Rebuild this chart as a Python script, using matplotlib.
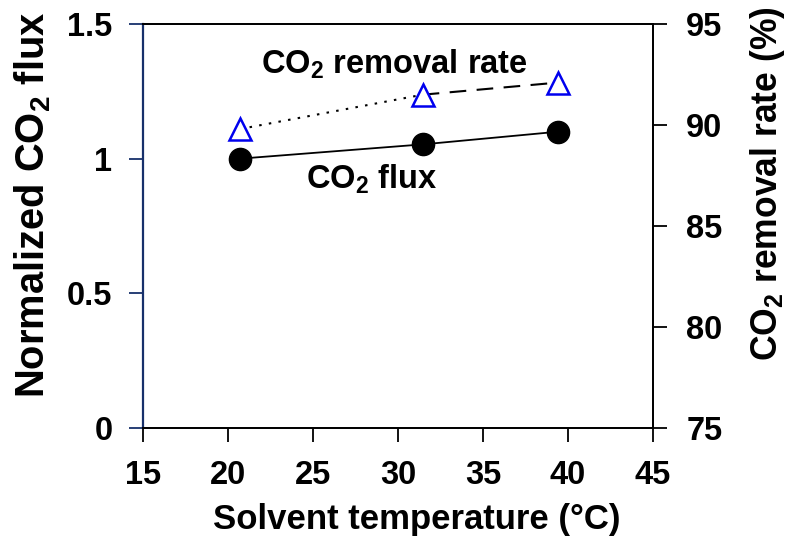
import matplotlib
matplotlib.use("Agg")
import matplotlib.pyplot as plt

plt.rcParams["font.family"] = ["Liberation Sans", "DejaVu Sans"]
plt.rcParams["font.weight"] = "bold"
plt.rcParams["mathtext.fontset"] = "custom"
plt.rcParams["mathtext.rm"] = "Liberation Sans:bold"
plt.rcParams["mathtext.it"] = "Liberation Sans:bold"
plt.rcParams["mathtext.bf"] = "Liberation Sans:bold"
plt.rcParams["mathtext.default"] = "rm"

# data
temperature = [20.7, 31.45, 39.4]
flux = [1.00, 1.053, 1.10]
removal_rate = [89.8, 91.5, 92.1]

x_ticks = [15, 20, 25, 30, 35, 40, 45]
left_ticks = [0, 0.5, 1, 1.5]
left_labels = ["0", "0.5", "1", "1.5"]
right_ticks = [75, 80, 85, 90, 95]

navy = "#17306b"
tick_fs = 23.5

fig = plt.figure(figsize=(7.92, 5.37), dpi=100)
ax = fig.add_axes([0.1806, 0.203, 0.6439, 0.7523])
ax2 = ax.twinx()

ax.plot(temperature, flux, color="black", lw=1.3, marker="o",
        markersize=16, markerfacecolor="black", markeredgecolor="black",
        zorder=3)

# removal rate: dotted first segment, dashed second
ax2.plot(temperature[:2], removal_rate[:2], color="black", lw=1.5,
         linestyle=(0, (1.2, 3.5)))
ax2.plot(temperature[1:], removal_rate[1:], color="black", lw=1.5,
         linestyle=(0, (8, 5)))
ax2.plot(temperature, removal_rate, linestyle="none", marker="^",
         markersize=16, markerfacecolor="white", markeredgecolor="#0000ee",
         markeredgewidth=1.8, zorder=4)

ax.set_xlim(15, 45)
ax.set_ylim(0, 1.5)
ax2.set_ylim(75, 95)
ax.set_xticks(x_ticks)
ax.set_yticks(left_ticks)
ax.set_yticklabels(left_labels)
ax2.set_yticks(right_ticks)

ax.tick_params(axis="x", direction="out", length=10, width=1.3,
               labelsize=tick_fs, pad=13)
ax.tick_params(axis="y", direction="out", length=10, width=1.3,
               labelsize=tick_fs, pad=12, color=navy)
ax2.tick_params(axis="y", direction="out", length=10, width=1.3,
                labelsize=tick_fs, pad=14)

for side in ["top", "bottom", "right"]:
    ax.spines[side].set_linewidth(1.3)
    ax2.spines[side].set_linewidth(1.3)
ax.spines["left"].set_color(navy)
ax.spines["left"].set_linewidth(1.6)
ax2.spines["left"].set_visible(False)

ax.set_xlabel("Solvent temperature (°C)", fontsize=25, fontweight="bold",
              labelpad=9)
ax.set_ylabel(r"Normalized CO$_2$ flux", fontsize=28.7, fontweight="bold",
              labelpad=10)
ax2.set_ylabel(r"CO$_2$ removal rate (%)", fontsize=25.6, fontweight="bold",
               labelpad=18)
ax.xaxis.label.set_x(0.537)
ax.yaxis.label.set_y(0.552)
ax2.yaxis.label.set_y(0.606)

ax.text(29.8, 1.315, r"CO$_2$ removal rate", fontsize=23.5, fontweight="bold",
        ha="center", va="baseline")
ax.text(28.44, 0.89, r"CO$_2$ flux", fontsize=23.5, fontweight="bold",
        ha="center", va="baseline")

fig.savefig("out.png", dpi=100)
